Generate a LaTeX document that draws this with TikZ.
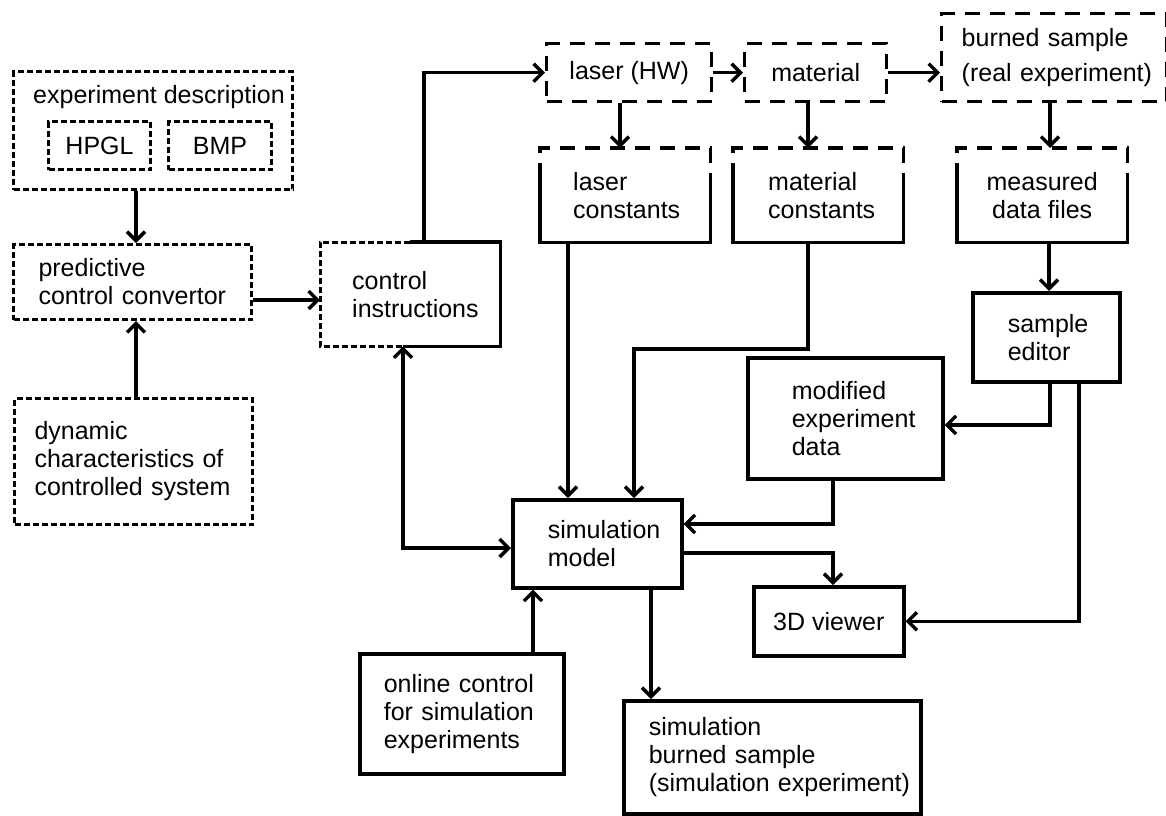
\documentclass[tikz,border=0pt]{standalone}
\usepackage{fontspec}
\setmainfont{Liberation Sans}
\usetikzlibrary{arrows.meta}
\tikzset{
  txt/.style={font=\fontsize{25}{28}\selectfont},
  box/.style={txt, draw, anchor=north west, align=center, inner sep=0pt},
  lbox/.style={txt, anchor=north west, inner xsep=0pt, text width=#1, minimum width=#1, align=left},
  indent/.style={execute at begin node={\leftskip=#1\relax}},
  sbox/.style={draw, line width=3.6pt},
  dotbox/.style={draw, dash pattern=on 6pt off 3pt, line width=3pt},
  dashbox/.style={draw, dash pattern=on 15pt off 10pt, line width=3.4pt},
  arr/.style={line width=3.4pt, -{Straight Barb[length=9pt,width=18pt]}},
  arr2/.style={line width=3.4pt, {Straight Barb[length=9pt,width=18pt]}-{Straight Barb[length=9pt,width=18pt]}}
}
\begin{document}
\begin{tikzpicture}[x=1pt,y=-1pt]
\useasboundingbox (0,0) rectangle (1166,815);
\node[box, dotbox, minimum width=279pt, minimum height=118pt] (expdesc) at (12,70) {};
\node[txt] (edtitle) at (159,97) {experiment description};
\node[box, dotbox, minimum width=102pt, minimum height=48pt] (hpgl) at (47,120) {HPGL};
\node[box, dotbox, minimum width=103pt, minimum height=48pt] (bmp) at (167,120) {BMP};
\node[lbox=238pt, indent=25pt, minimum height=75pt, dotbox] (pred) at (12,243) {predictive\\control convertor};
\node[lbox=238pt, indent=20pt, minimum height=126pt, dotbox] (dyn) at (13,397) {dynamic\\characteristics of\\controlled system};
\node[lbox=180pt, indent=32pt, minimum height=104pt] (ctrl) at (320,242) {control\\instructions};
\node[box, dashbox, minimum width=165pt, minimum height=58pt] (laser) at (545,42) {laser (HW)};
\node[box, dashbox, minimum width=142pt, minimum height=58pt] (material) at (743,42) {material};
\node[lbox=225pt, indent=20pt, minimum height=88pt, dashbox] (burned) at (940,12) {burned sample\\[7pt](real experiment)};
\node[lbox=170pt, indent=33pt, minimum height=94pt] (lconst) at (540,148) {laser\\constants};
\node[lbox=170pt, indent=35pt, minimum height=94pt] (mconst) at (733,148) {material\\constants};
\node[txt, anchor=north west, align=center, minimum width=170pt, minimum height=94pt] (meas) at (957,148) {measured\\data files};
\node[lbox=147pt, indent=35pt, minimum height=89pt, sbox] (sedit) at (971,291) {sample\\editor};
\node[lbox=195pt, indent=44pt, minimum height=121pt, sbox] (mod) at (746,356) {modified\\experiment\\data};
\node[lbox=169pt, indent=35pt, minimum height=88pt, sbox] (sim) at (511,498) {simulation\\model};
\node[box, sbox, minimum width=150pt, minimum height=69pt] (view) at (752,585) {3D viewer};
\node[lbox=204pt, indent=24pt, minimum height=120pt, sbox] (online) at (358,652) {online control\\for simulation\\experiments};
\node[lbox=297pt, indent=25pt, minimum height=113pt, sbox] (simb) at (622,699) {simulation\\burned sample\\(simulation experiment)};
\draw[dotbox] (ctrl.north -| 410,0) -- (ctrl.north west) -- (ctrl.south west) -- (ctrl.south -| 403,0);
\draw[sbox] (ctrl.north -| 410,0) -- (ctrl.north east) -- (ctrl.south east) -- (ctrl.south -| 403,0);
\foreach \b in {lconst,mconst,meas}{
  \draw[dashbox] ([yshift=-30pt]\b.north west) -- (\b.north west) -- (\b.north east) -- ([yshift=-30pt]\b.north east);
  \draw[sbox] ([yshift=-30pt]\b.north west) -- (\b.south west) -- (\b.south east) -- ([yshift=-30pt]\b.north east);
}
\draw[arr] (expdesc.south -| 136,0) -- (pred.north -| 136,0);
\draw[arr] (dyn.north -| 136,0) -- (pred.south -| 136,0);
\draw[arr] (pred.east |- 0,300) -- (ctrl.west |- 0,300);
\draw[arr] (ctrl.north -| 424,0) |- (laser.west);
\draw[arr] (laser.east) -- (material.west);
\draw[arr] (material.east) -- (material.east -| burned.west);
\draw[arr] (laser.south -| 620,0) -- (lconst.north -| 620,0);
\draw[arr] (material.south -| 808,0) -- (mconst.north -| 808,0);
\draw[arr] (burned.south -| 1050,0) -- (meas.north -| 1050,0);
\draw[arr] (meas.south -| 1049,0) -- (sedit.north -| 1049,0);
\draw[arr] (lconst.south -| 568,0) -- (sim.north -| 568,0);
\draw[arr] (mconst.south -| 808,0) -- (808,349) -| (sim.north -| 634,0);
\draw[arr2] (ctrl.south -| 403,0) |- (sim.west |- 0,548);
\draw[arr] (mod.south -| 833,0) |- (sim.east |- 0,524);
\draw[arr] (sim.east |- 0,553) -| (view.north -| 833,0);
\draw[arr] (sedit.south -| 1050,0) |- (mod.east |- 0,425);
\draw[arr] (sedit.south -| 1079,0) |- (view.east);
\draw[arr] (online.north -| 533,0) -- (sim.south -| 533,0);
\draw[arr] (sim.south -| 651,0) -- (simb.north -| 651,0);
\end{tikzpicture}
\end{document}
